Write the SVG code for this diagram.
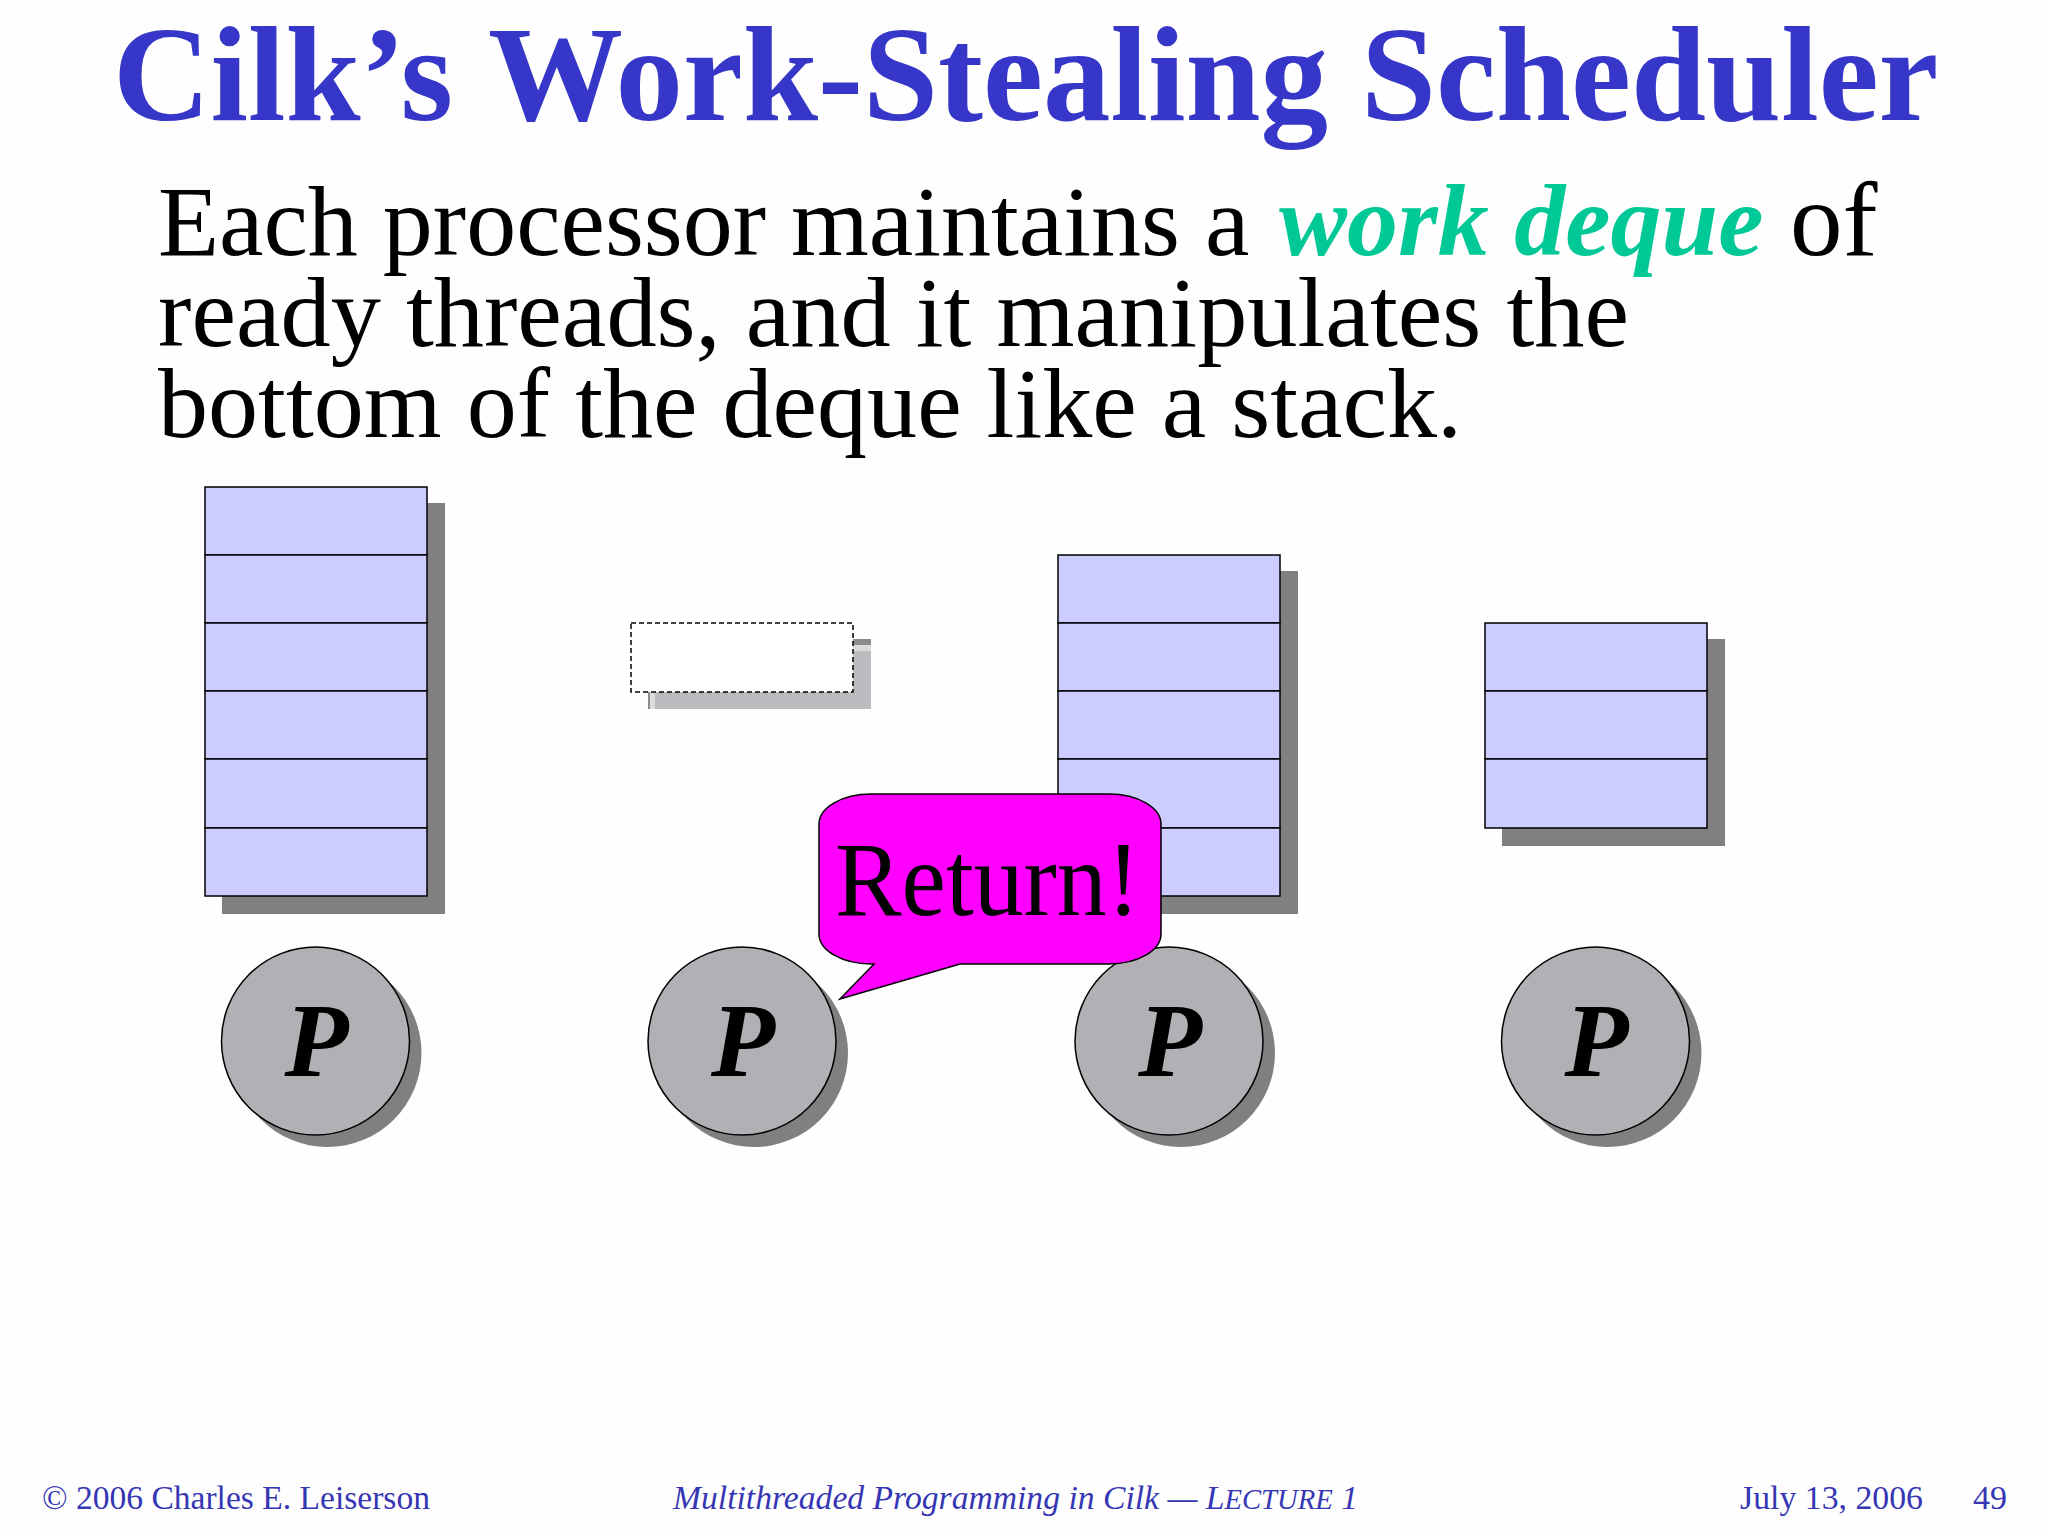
<svg xmlns="http://www.w3.org/2000/svg" width="2048" height="1536" viewBox="0 0 2048 1536">
<style>
text{font-family:"Liberation Serif","Times New Roman",serif}
.title{font-size:135px;font-weight:bold;fill:#3636c8}
.body{font-size:100px;fill:#000}
.em{font-size:102px;font-weight:bold;font-style:italic;fill:#00c896}
.foot{font-size:34px;fill:#3636b4}
.cell{fill:#ccccff;stroke:#000;stroke-width:1.5}
.shadow{fill:#808080}
.disk{fill:#b2b0b4;stroke:#000;stroke-width:1.5}
.p{font-size:105px;font-weight:bold;font-style:italic;text-anchor:middle;fill:#000}
</style>
<defs>
<g id="proc"><circle class="shadow" cx="12" cy="12" r="94"/><circle class="disk" r="94"/><text class="p" x="1" y="35">P</text></g>
</defs>
<rect width="2048" height="1536" fill="#fefefe"/>
<text class="title" y="120"><tspan x="113">Cilk’s</tspan> <tspan x="488">Work-Stealing</tspan> <tspan x="1361">Scheduler</tspan></text>
<text class="body" x="158" y="255">Each processor maintains a <tspan class="em" x="1279">work deque</tspan> <tspan x="1790" font-size="105">of</tspan></text>
<text class="body" x="158" y="346" textLength="1471" lengthAdjust="spacingAndGlyphs">ready threads, and it manipulates the</text>
<text class="body" x="158" y="437" textLength="1304" lengthAdjust="spacingAndGlyphs">bottom of the deque like a stack.</text>
<g id="deque1">
<rect class="shadow" x="222" y="503" width="223" height="411"/>
<rect class="cell" x="205" y="487" width="222" height="68"/><rect class="cell" x="205" y="555" width="222" height="68"/><rect class="cell" x="205" y="623" width="222" height="68"/><rect class="cell" x="205" y="691" width="222" height="68"/><rect class="cell" x="205" y="759" width="222" height="69"/><rect class="cell" x="205" y="828" width="222" height="68"/>
</g>
<g id="deque2">
<rect x="648" y="639" width="223" height="70" fill="#bdbbc0"/>
<rect x="853" y="639" width="18" height="6" fill="#8c8c8c"/>
<rect x="853" y="645" width="18" height="6" fill="#dcdcdc"/>
<rect x="648" y="692" width="2" height="17" fill="#8c8c8c"/>
<rect x="650" y="692" width="5" height="17" fill="#dcdcdc"/>
<rect x="631" y="623" width="222" height="69" fill="#fff" stroke="#000" stroke-width="1.5" stroke-dasharray="5 3"/>
</g>
<g id="deque3">
<rect class="shadow" x="1075" y="571" width="223" height="343"/>
<rect class="cell" x="1058" y="555" width="222" height="68"/><rect class="cell" x="1058" y="623" width="222" height="68"/><rect class="cell" x="1058" y="691" width="222" height="68"/><rect class="cell" x="1058" y="759" width="222" height="69"/><rect class="cell" x="1058" y="828" width="222" height="68"/>
</g>
<g id="deque4">
<rect class="shadow" x="1502" y="639" width="223" height="207"/>
<rect class="cell" x="1485" y="623" width="222" height="68"/><rect class="cell" x="1485" y="691" width="222" height="68"/><rect class="cell" x="1485" y="759" width="222" height="69"/>
</g>
<use id="p1" href="#proc" x="315.5" y="1041"/>
<use id="p2" href="#proc" x="742" y="1041"/>
<use id="p3" href="#proc" x="1169" y="1041"/>
<use id="p4" href="#proc" x="1595.5" y="1041"/>
<g id="callout">
<path d="M871 794H1109A52 30 0 0 1 1161 824V934A52 30 0 0 1 1109 964H960L840 999L874 964H871A52 30 0 0 1 819 934V824A52 30 0 0 1 871 794Z" fill="#ff00ff" stroke="#000" stroke-width="1.5"/>
<text x="835" y="915" font-size="105" textLength="305" lengthAdjust="spacingAndGlyphs" fill="#000">Return!</text>
</g>
<text class="foot" x="42" y="1509" textLength="388" lengthAdjust="spacingAndGlyphs">© 2006 Charles E. Leiserson</text>
<text class="foot" x="673" y="1509" font-style="italic" textLength="685" lengthAdjust="spacingAndGlyphs">Multithreaded Programming in Cilk — L<tspan font-size="29">ECTURE</tspan> 1</text>
<text class="foot" x="1740" y="1509" textLength="183" lengthAdjust="spacingAndGlyphs">July 13, 2006</text>
<text class="foot" x="1973" y="1509" textLength="34" lengthAdjust="spacingAndGlyphs">49</text>
</svg>
